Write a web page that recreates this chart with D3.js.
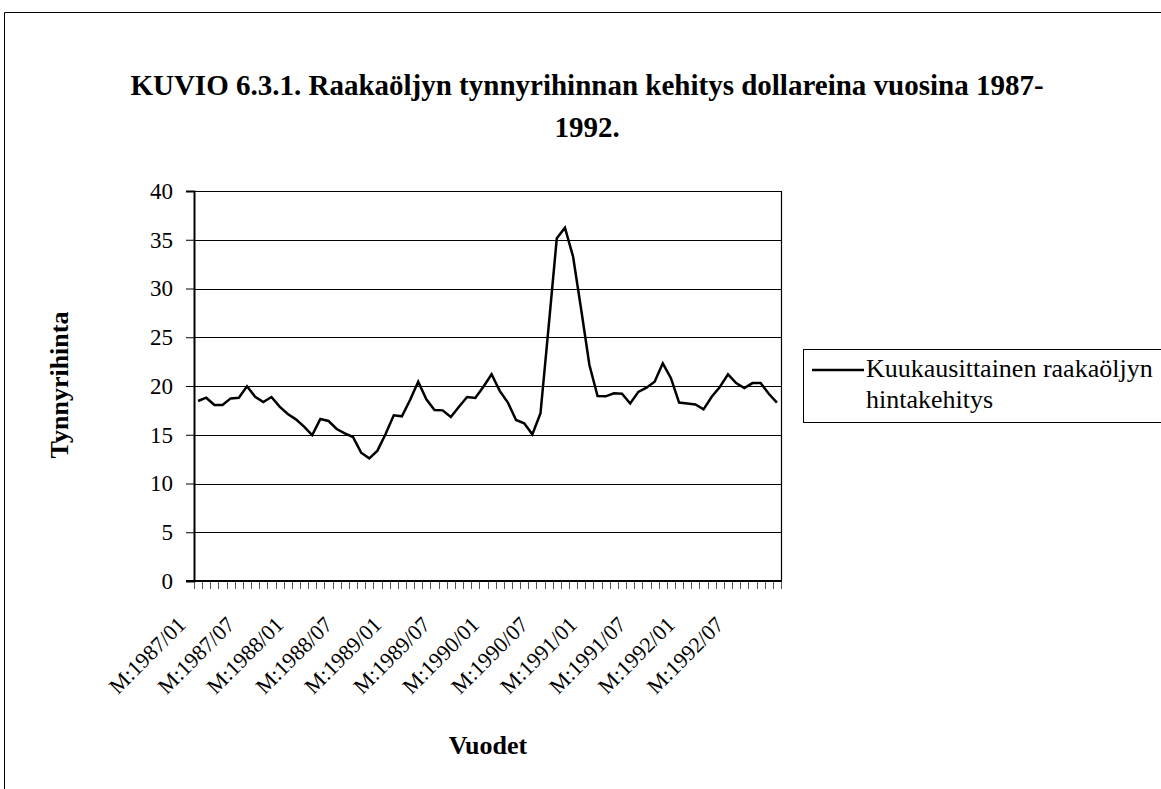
<!DOCTYPE html>
<html>
<head>
<meta charset="utf-8">
<script src="https://cdn.jsdelivr.net/npm/d3@7"></script>
<style>
  html, body { margin: 0; padding: 0; background: #fff; }
  svg { display: block; }
  text { font-family: "Liberation Serif", "Times New Roman", serif; fill: #000; }
</style>
</head>
<body>
<svg id="chart" width="1161" height="789"></svg>
<script>
// ---- data ----
const years = ["1987", "1988", "1989", "1990", "1991", "1992"];
const months = ["01","02","03","04","05","06","07","08","09","10","11","12"];
const categories = [];
years.forEach(y => months.forEach(m => categories.push("M:" + y + "/" + m)));

const prices = [
  18.46, 18.8, 18.05, 18.05, 18.73, 18.8, 19.97, 18.9, 18.36, 18.87, 17.88, 17.13,
  16.58, 15.83, 14.97, 16.62, 16.41, 15.59, 15.15, 14.77, 13.16, 12.58, 13.37, 15.08,
  17.0, 16.89, 18.56, 20.44, 18.63, 17.54, 17.5, 16.82, 17.88, 18.87, 18.77, 19.93,
  21.2, 19.5, 18.3, 16.51, 16.17, 15.04, 17.2, 26.1, 35.15, 36.24, 33.26, 27.8,
  22.15, 18.97, 18.94, 19.25, 19.2, 18.2, 19.4, 19.83, 20.44, 22.33, 20.8, 18.3,
  18.2, 18.1, 17.6, 18.9, 19.9, 21.2, 20.3, 19.8, 20.3, 20.3, 19.2, 18.3
];

const xTickLabels = ["M:1987/01","M:1987/07","M:1988/01","M:1988/07","M:1989/01","M:1989/07",
  "M:1990/01","M:1990/07","M:1991/01","M:1991/07","M:1992/01","M:1992/07"];
const yTicks = [0, 5, 10, 15, 20, 25, 30, 35, 40];

const titleLines = ["KUVIO 6.3.1. Raakaöljyn tynnyrihinnan kehitys dollareina vuosina 1987-", "1992."];
const yAxisTitle = "Tynnyrihinta";
const xAxisTitle = "Vuodet";
const legendLines = ["Kuukausittainen raakaöljyn", "hintakehitys"];

// ---- layout ----
const svg = d3.select("#chart");
const plot = { left: 194, right: 781, top: 191, bottom: 581 };

// outer frame
svg.append("path")
  .attr("d", "M4.5,800 L4.5,12.5 L1170,12.5")
  .attr("fill", "none").attr("stroke", "#000").attr("stroke-width", 1);

// title
svg.append("text").attr("x", 587).attr("y", 95).attr("text-anchor", "middle")
  .style("font-size", "29px").style("font-weight", "bold").text(titleLines[0]);
svg.append("text").attr("x", 587).attr("y", 137).attr("text-anchor", "middle")
  .style("font-size", "29px").style("font-weight", "bold").text(titleLines[1]);

const x = d3.scaleBand().domain(categories).range([plot.left, plot.right]).padding(0);
const y = d3.scaleLinear().domain([0, 40]).range([plot.bottom, plot.top]);

// gridlines
svg.append("g").selectAll("line").data(yTicks.filter(d => d > 0)).join("line")
  .attr("x1", plot.left).attr("x2", plot.right)
  .attr("y1", d => Math.round(y(d)) + 0.5).attr("y2", d => Math.round(y(d)) + 0.5)
  .attr("stroke", "#000").attr("stroke-width", 1.2);

// plot area right border
svg.append("line").attr("x1", plot.right + 0.5).attr("x2", plot.right + 0.5)
  .attr("y1", plot.top).attr("y2", plot.bottom).attr("stroke", "#000").attr("stroke-width", 1.2);

// y axis
const yAxis = d3.axisLeft(y).tickValues(yTicks).tickSize(8).tickPadding(13);
const gy = svg.append("g").attr("transform", `translate(${plot.left},0)`).call(yAxis);
gy.select(".domain").attr("stroke", "#000").attr("stroke-width", 2);
gy.selectAll(".tick line").attr("stroke", "#000");
gy.selectAll(".tick text").style("font-size", "23px").style("font-family", "Liberation Serif, serif");

// x axis: tick marks at category boundaries
const boundaries = d3.range(categories.length + 1).map(i => plot.left + i * x.bandwidth());
svg.append("g").selectAll("line").data(boundaries).join("line")
  .attr("x1", d => Math.round(d) + 0.5).attr("x2", d => Math.round(d) + 0.5)
  .attr("y1", plot.bottom).attr("y2", plot.bottom + 8)
  .attr("stroke", "#555").attr("stroke-width", 1);
svg.append("line").attr("x1", plot.left - 8).attr("x2", plot.right + 1)
  .attr("y1", plot.bottom).attr("y2", plot.bottom)
  .attr("stroke", "#000").attr("stroke-width", 2);

// x tick labels
svg.append("g").selectAll("text").data(xTickLabels).join("text")
  .attr("transform", d => {
    const cx = x(d) + x.bandwidth() / 2 - 11;
    return `translate(${cx},626) rotate(-45)`;
  })
  .attr("text-anchor", "end")
  .style("font-size", "22px")
  .text(d => d);

// line
const line = d3.line()
  .x((d, i) => x(categories[i]) + x.bandwidth() / 2)
  .y(d => y(d));
svg.append("path").datum(prices)
  .attr("d", line).attr("fill", "none")
  .attr("stroke", "#000").attr("stroke-width", 2.5).attr("stroke-linejoin", "miter");

// axis titles
svg.append("text").attr("transform", "translate(68,385) rotate(-90)")
  .attr("text-anchor", "middle").style("font-size", "26px").style("font-weight", "bold")
  .text(yAxisTitle);
svg.append("text").attr("x", 488).attr("y", 754).attr("text-anchor", "middle")
  .style("font-size", "26px").style("font-weight", "bold").text(xAxisTitle);

// legend
svg.append("rect").attr("x", 803.5).attr("y", 349.5).attr("width", 400).attr("height", 73)
  .attr("fill", "#fff").attr("stroke", "#000").attr("stroke-width", 1);
svg.append("line").attr("x1", 812).attr("x2", 864).attr("y1", 370).attr("y2", 370)
  .attr("stroke", "#000").attr("stroke-width", 2.5);
svg.append("text").attr("x", 866).attr("y", 377).style("font-size", "26px").text(legendLines[0]);
svg.append("text").attr("x", 866).attr("y", 408).style("font-size", "26px").text(legendLines[1]);
</script>
</body>
</html>
